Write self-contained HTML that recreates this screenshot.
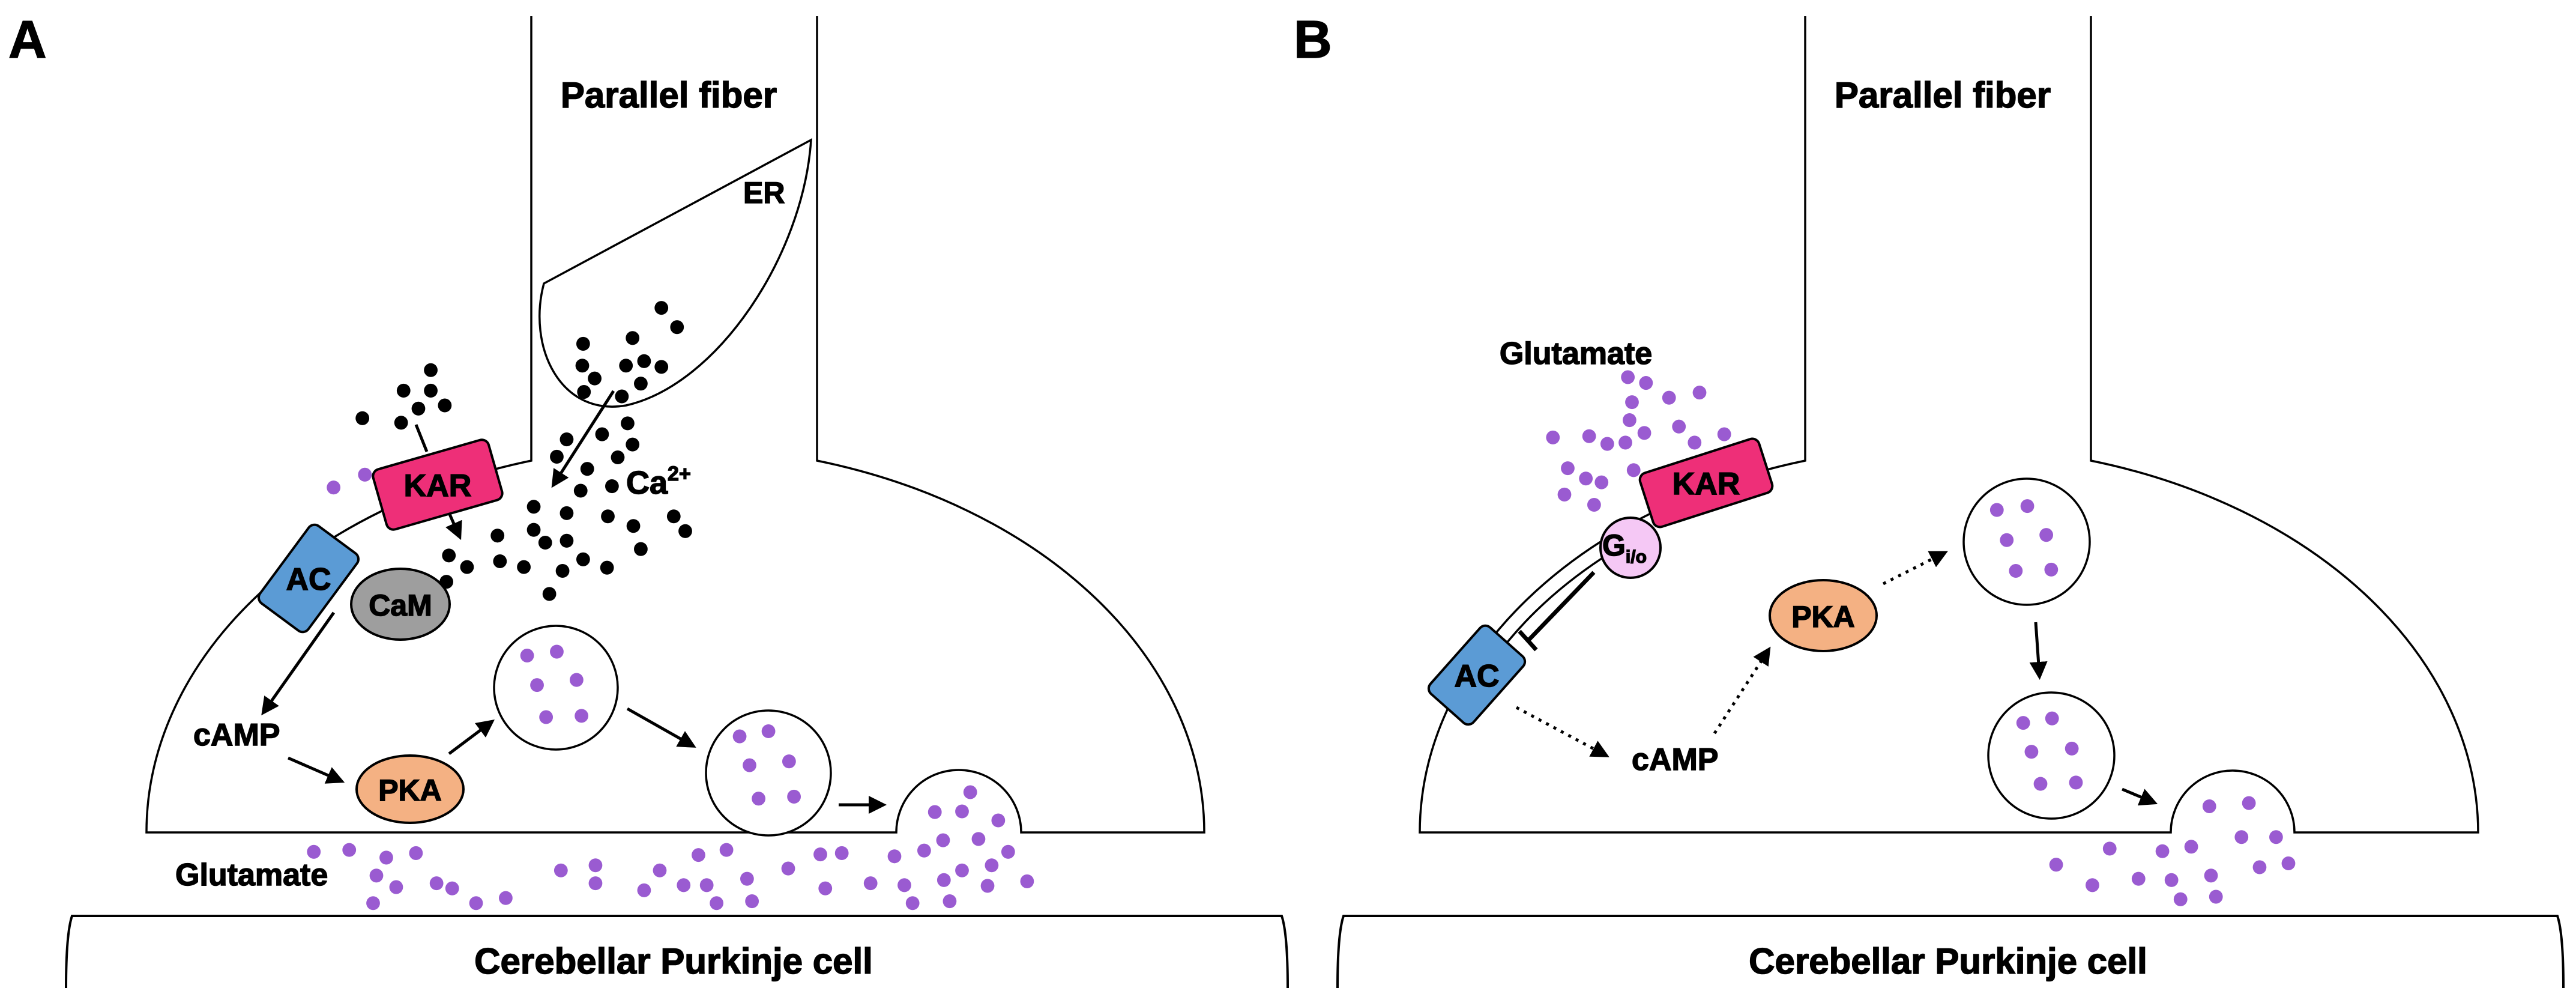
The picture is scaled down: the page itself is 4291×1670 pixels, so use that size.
<!DOCTYPE html>
<html><head><meta charset="utf-8"><style>
html,body{margin:0;padding:0;background:#fff}
svg{display:block}
text{font-family:"Liberation Sans",Arial,sans-serif;font-weight:bold;fill:#000;stroke:#000;stroke-width:1.5}
</style></head><body>
<svg width="4291" height="1670" viewBox="0 0 4291 1670" xmlns="http://www.w3.org/2000/svg">
<defs>
<ellipse id="k" rx="8.3" ry="10.8"/>
<marker id="ah" markerWidth="6" markerHeight="6" refX="4" refY="3" orient="auto" markerUnits="strokeWidth"><path d="M0,0 L6,3 L0,6 Z" fill="#000"/></marker>
</defs>

<!-- PANEL A -->
<text x="14" y="96" font-size="88">A</text>
<path d="M885,27 L885,767 A881,643 0 0 0 244,1386 L1493,1386 A104,104 0 0 1 1701,1386 L2006,1386 A881,643 0 0 0 1361,767 L1361,27" fill="none" stroke="#000" stroke-width="3.5"/>
<text x="1114" y="179" font-size="60" text-anchor="middle">Parallel fiber</text>
<path d="M906,472 L1351,233 C1338,427 1194,641 1043,675 C933,694 878,577 906,472 Z" fill="#fff" stroke="#000" stroke-width="3.5"/>
<text x="1238" y="338" font-size="50">ER</text>
<text x="1043" y="822" font-size="54">Ca<tspan font-size="34" dy="-22">2+</tspan></text>

<g fill="#000" transform="scale(1.372,1.068)">
<use href="#k" x="803" y="480"/><use href="#k" x="822" y="510"/><use href="#k" x="708" y="536"/><use href="#k" x="768" y="527"/><use href="#k" x="707" y="570"/><use href="#k" x="760" y="570"/><use href="#k" x="782" y="563"/><use href="#k" x="803" y="572"/><use href="#k" x="722" y="590"/><use href="#k" x="778" y="598"/><use href="#k" x="709" y="611"/><use href="#k" x="755" y="618"/>
<use href="#k" x="523" y="577"/><use href="#k" x="490" y="609"/><use href="#k" x="523" y="609"/><use href="#k" x="540" y="632"/><use href="#k" x="508" y="637"/><use href="#k" x="440" y="652"/><use href="#k" x="487" y="659"/>
<use href="#k" x="762" y="660"/><use href="#k" x="688" y="685"/><use href="#k" x="731" y="677"/><use href="#k" x="768" y="693"/><use href="#k" x="676" y="712"/><use href="#k" x="750" y="713"/><use href="#k" x="713" y="731"/><use href="#k" x="705" y="765"/><use href="#k" x="743" y="758"/><use href="#k" x="648" y="790"/><use href="#k" x="688" y="800"/><use href="#k" x="738" y="805"/><use href="#k" x="818" y="805"/><use href="#k" x="769" y="820"/><use href="#k" x="832" y="828"/><use href="#k" x="604" y="835"/><use href="#k" x="648" y="826"/><use href="#k" x="662" y="846"/><use href="#k" x="688" y="843"/><use href="#k" x="778" y="856"/><use href="#k" x="545" y="866"/><use href="#k" x="567" y="884"/><use href="#k" x="607" y="875"/><use href="#k" x="636" y="884"/><use href="#k" x="683" y="890"/><use href="#k" x="708" y="872"/><use href="#k" x="737" y="885"/><use href="#k" x="542" y="907"/><use href="#k" x="667" y="926"/>
</g>

<g stroke="#000" stroke-width="5" fill="none">
<line x1="693" y1="707" x2="711" y2="752"/>
<line x1="748" y1="854" x2="764" y2="890" marker-end="url(#ah)"/>
<line x1="1022" y1="651" x2="924" y2="804" marker-end="url(#ah)"/>
<line x1="556" y1="1020" x2="441" y2="1183" marker-end="url(#ah)"/>
<line x1="480" y1="1262" x2="565" y2="1299" marker-end="url(#ah)"/>
<line x1="748" y1="1255" x2="816" y2="1204" marker-end="url(#ah)"/>
<line x1="1045" y1="1180" x2="1151" y2="1240" marker-end="url(#ah)"/>
<line x1="1397" y1="1340" x2="1467" y2="1340" marker-end="url(#ah)"/>
</g>

<g transform="translate(729,807) rotate(-16)"><rect x="-100" y="-52" width="200" height="104" rx="12" fill="#EE2F78" stroke="#000" stroke-width="4"/></g>
<text x="729" y="826" font-size="52" text-anchor="middle">KAR</text>
<g transform="translate(514,963) rotate(36.5)"><rect x="-50" y="-80" width="100" height="160" rx="12" fill="#5B9BD5" stroke="#000" stroke-width="4"/></g>
<text x="514" y="982" font-size="52" text-anchor="middle">AC</text>
<ellipse cx="667" cy="1006" rx="82" ry="59" fill="#9E9E9E" stroke="#000" stroke-width="4"/>
<text x="667" y="1025" font-size="50" text-anchor="middle">CaM</text>
<ellipse cx="683" cy="1314" rx="89" ry="56" fill="#F4B183" stroke="#000" stroke-width="4"/>
<text x="683" y="1333" font-size="50" text-anchor="middle">PKA</text>
<text x="322" y="1241" font-size="52">cAMP</text>
<circle cx="926" cy="1145" r="103" fill="#fff" stroke="#000" stroke-width="3.5"/>
<circle cx="1280" cy="1287" r="104" fill="#fff" stroke="#000" stroke-width="3.5"/>
<text x="292" y="1474" font-size="52">Glutamate</text>

<g fill="#9a5bd1" transform="scale(1.372,1.068)">
<use href="#k" x="405" y="760"/><use href="#k" x="443" y="740"/>
<use href="#k" x="640" y="1022"/><use href="#k" x="676" y="1016"/><use href="#k" x="652" y="1068"/><use href="#k" x="700" y="1060"/><use href="#k" x="663" y="1118"/><use href="#k" x="706" y="1116"/>
<use href="#k" x="898" y="1148"/><use href="#k" x="933" y="1140"/><use href="#k" x="910" y="1193"/><use href="#k" x="958" y="1187"/><use href="#k" x="921" y="1245"/><use href="#k" x="964" y="1242"/>
<use href="#k" x="381" y="1328"/><use href="#k" x="424" y="1325"/><use href="#k" x="469" y="1337"/><use href="#k" x="505" y="1330"/><use href="#k" x="457" y="1365"/><use href="#k" x="481" y="1383"/><use href="#k" x="530" y="1377"/><use href="#k" x="549" y="1385"/><use href="#k" x="578" y="1408"/><use href="#k" x="614" y="1400"/><use href="#k" x="453" y="1408"/><use href="#k" x="681" y="1357"/><use href="#k" x="723" y="1349"/><use href="#k" x="723" y="1377"/><use href="#k" x="801" y="1357"/><use href="#k" x="848" y="1333"/><use href="#k" x="882" y="1325"/><use href="#k" x="782" y="1388"/><use href="#k" x="830" y="1380"/><use href="#k" x="858" y="1380"/><use href="#k" x="907" y="1370"/><use href="#k" x="870" y="1408"/><use href="#k" x="913" y="1405"/><use href="#k" x="957" y="1354"/><use href="#k" x="996" y="1332"/><use href="#k" x="1022" y="1330"/><use href="#k" x="1002" y="1385"/><use href="#k" x="1057" y="1377"/><use href="#k" x="1086" y="1335"/><use href="#k" x="1098" y="1380"/><use href="#k" x="1122" y="1326"/><use href="#k" x="1108" y="1408"/><use href="#k" x="1145" y="1310"/><use href="#k" x="1146" y="1372"/><use href="#k" x="1153" y="1405"/><use href="#k" x="1168" y="1357"/><use href="#k" x="1188" y="1308"/><use href="#k" x="1204" y="1349"/><use href="#k" x="1199" y="1381"/><use href="#k" x="1224" y="1328"/><use href="#k" x="1247" y="1374"/><use href="#k" x="1135" y="1266"/><use href="#k" x="1168" y="1265"/><use href="#k" x="1178" y="1235"/><use href="#k" x="1212" y="1279"/>
</g>

<path d="M110,1645 Q110,1555 120,1525 L2135,1525 Q2145,1555 2145,1645" fill="none" stroke="#000" stroke-width="4"/>
<text x="1122" y="1621" font-size="60" text-anchor="middle">Cerebellar Purkinje cell</text>

<!-- PANEL B -->
<text x="2155" y="96" font-size="88">B</text>
<path d="M3007,27 L3007,767 A881.5,644 0 0 0 2365,1386 L3616,1386 A103,103 0 0 1 3822,1386 L4128,1386 A881.5,644 0 0 0 3483,767 L3483,27" fill="none" stroke="#000" stroke-width="3.5"/>
<path d="M2680,922 A856,619 0 0 0 2490,1096" fill="none" stroke="#000" stroke-width="3.5"/>
<text x="3236" y="179" font-size="60" text-anchor="middle">Parallel fiber</text>
<text x="2625" y="606" font-size="52" text-anchor="middle">Glutamate</text>

<g fill="#9a5bd1" transform="translate(2145,0) scale(1.372,1.068)">
<use href="#k" x="413" y="588"/><use href="#k" x="435" y="597"/><use href="#k" x="463" y="620"/><use href="#k" x="500" y="612"/><use href="#k" x="418" y="627"/><use href="#k" x="415" y="655"/><use href="#k" x="433" y="675"/><use href="#k" x="475" y="665"/><use href="#k" x="322" y="682"/><use href="#k" x="366" y="680"/><use href="#k" x="388" y="692"/><use href="#k" x="410" y="690"/><use href="#k" x="494" y="690"/><use href="#k" x="530" y="677"/><use href="#k" x="340" y="730"/><use href="#k" x="362" y="746"/><use href="#k" x="381" y="752"/><use href="#k" x="420" y="733"/><use href="#k" x="336" y="771"/><use href="#k" x="372" y="787"/>
<use href="#k" x="861" y="795"/><use href="#k" x="898" y="789"/><use href="#k" x="873" y="842"/><use href="#k" x="921" y="834"/><use href="#k" x="884" y="890"/><use href="#k" x="927" y="888"/>
<use href="#k" x="893" y="1127"/><use href="#k" x="928" y="1120"/><use href="#k" x="903" y="1172"/><use href="#k" x="952" y="1167"/><use href="#k" x="914" y="1222"/><use href="#k" x="957" y="1220"/>
<use href="#k" x="1119" y="1257"/><use href="#k" x="1167" y="1252"/><use href="#k" x="1158" y="1305"/><use href="#k" x="1200" y="1305"/><use href="#k" x="1097" y="1320"/><use href="#k" x="1062" y="1327"/><use href="#k" x="998" y="1323"/><use href="#k" x="933" y="1348"/><use href="#k" x="977" y="1380"/><use href="#k" x="1033" y="1370"/><use href="#k" x="1073" y="1372"/><use href="#k" x="1121" y="1365"/><use href="#k" x="1180" y="1352"/><use href="#k" x="1215" y="1346"/><use href="#k" x="1084" y="1402"/><use href="#k" x="1127" y="1398"/>
</g>

<g stroke="#000" stroke-width="5" fill="none">
<line x1="2526" y1="1178" x2="2672" y2="1256" stroke-dasharray="5 9" marker-end="url(#ah)"/>
<line x1="2856" y1="1221" x2="2944" y2="1085" stroke-dasharray="5 9" marker-end="url(#ah)"/>
<line x1="3137" y1="972" x2="3236" y2="922" stroke-dasharray="5 9" marker-end="url(#ah)"/>
<line x1="3391" y1="1036" x2="3397" y2="1122" marker-end="url(#ah)"/>
<line x1="3535" y1="1314" x2="3585" y2="1335" marker-end="url(#ah)"/>
<line x1="2655" y1="953" x2="2546" y2="1066" stroke-width="7"/>
<line x1="2531" y1="1051" x2="2559" y2="1082" stroke-width="7"/>
</g>

<g transform="translate(2842,804) rotate(-17.8)"><rect x="-104" y="-47" width="208" height="94" rx="12" fill="#EE2F78" stroke="#000" stroke-width="4"/></g>
<text x="2842" y="823" font-size="52" text-anchor="middle">KAR</text>
<circle cx="2716" cy="912" r="50" fill="#F5C8F5" stroke="#000" stroke-width="4"/>
<text x="2669" y="925" font-size="50">G<tspan font-size="30" dy="12">i/o</tspan></text>
<g transform="translate(2460,1124) rotate(41.6)"><rect x="-48" y="-74" width="96" height="148" rx="12" fill="#5B9BD5" stroke="#000" stroke-width="4"/></g>
<text x="2460" y="1143" font-size="52" text-anchor="middle">AC</text>
<text x="2718" y="1282" font-size="52">cAMP</text>
<ellipse cx="3037" cy="1025" rx="89" ry="59" fill="#F4B183" stroke="#000" stroke-width="4"/>
<text x="3037" y="1044" font-size="50" text-anchor="middle">PKA</text>
<circle cx="3376" cy="902" r="105" fill="none" stroke="#000" stroke-width="3.5"/>
<circle cx="3417" cy="1258" r="105" fill="none" stroke="#000" stroke-width="3.5"/>

<path d="M2228,1645 Q2228,1555 2238,1525 L4260,1525 Q4270,1555 4270,1645" fill="none" stroke="#000" stroke-width="4"/>
<text x="3245" y="1621" font-size="60" text-anchor="middle">Cerebellar Purkinje cell</text>
</svg>
</body></html>
